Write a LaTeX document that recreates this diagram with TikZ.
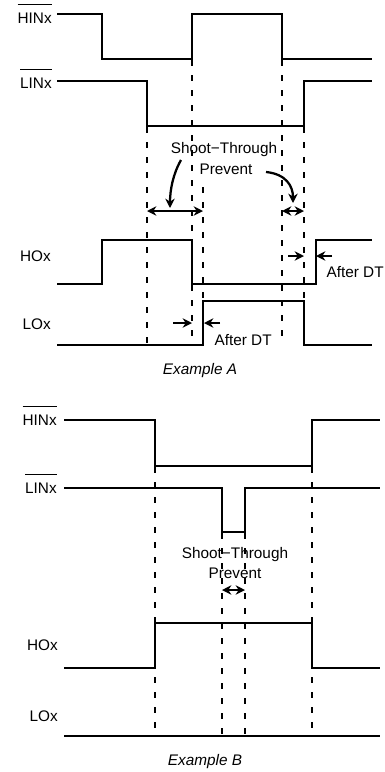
\documentclass[tikz,border=0pt]{standalone}
\usepackage{fontspec}
\setmainfont{Liberation Sans}
\usetikzlibrary{arrows.meta}
\definecolor{traceink}{HTML}{000000}
\newcommand{\barsig}[1]{\vbox{\hrule height 0.75pt \vskip 5.5pt \hbox{#1}}}

\begin{document}
\begin{tikzpicture}[x=0.75pt, y=-0.75pt, >={Stealth[length=7pt, width=7pt]},
                    every node/.style={traceink, font=\fontsize{11.5}{13.5}\selectfont},
                    sig/.style={traceink, line width=2pt},
                    guide/.style={traceink, line width=0.8pt, dash pattern=on 4.5pt off 6.75pt},
                    spanarr/.style={traceink, line width=1.7pt, <->},
                    dtarr/.style={traceink, line width=1.7pt, ->},
                    signame/.style={anchor=base east, inner sep=0pt},
                    textnote/.style={inner sep=1pt}]

  \useasboundingbox (0,0) rectangle (385,772);

  %% 範例 A 的輸入與輸出波形
  \draw[sig] (57,14) -| (102,59) -| (192,14) -| (282,59) -- (372,59);
  \draw[sig] (57,81) -| (147,126) -| (304,81) -- (372,81);
  \draw[sig] (57,284) -| (102,240) -| (192,284) -| (316,240) -- (372,240);
  \draw[sig] (57,345) -| (203,301) -| (304,345) -- (372,345);

  \node[signame] (hinA) at (52,23) {\barsig{HINx}};
  \node[signame] (linA) at (52,88) {\barsig{LINx}};
  \node[signame] (hoA)  at (51,261) {HOx};
  \node[signame] (loA)  at (51,329) {LOx};

  %% 邊緣對齊的虛線
  \draw[guide] (147,127) -- (147,345);
  \draw[guide] (192,60)  -- (192,345);
  \draw[guide] (203,187) -- (203,301);
  \draw[guide] (282,60)  -- (282,345);
  \draw[guide] (304,127) -- (304,345);

  %% 防止直通的區間
  \node[textnote] (stA) at (224,150) {Shoot−Through};
  \node[textnote] (pvA) at (226,169) {Prevent};
  \coordinate (g1l) at (147,211);
  \coordinate (g1r) at (203,211);
  \coordinate (g2l) at (282,211);
  \coordinate (g2r) at (304,211);
  \draw[spanarr] (g1l) -- (g1r);
  \draw[spanarr] (g2l) -- (g2r);
  \draw[dtarr] (181,160) .. controls (173,174) and (170,190) .. (170,208);
  \draw[dtarr] (pvA.east) ++(12,3) .. controls (286,174) and (293,186) .. (293,203);

  %% 死區時間
  \coordinate (d1a) at (288,256);
  \coordinate (d1b) at (304,256);
  \coordinate (d1c) at (332,256);
  \coordinate (d1d) at (316,256);
  \draw[dtarr] (d1a) -- (d1b);
  \draw[dtarr] (d1c) -- (d1d);
  \node[textnote, anchor=west] (dtA1) at (325,272) {After DT};

  \coordinate (d2a) at (173,323);
  \coordinate (d2b) at (192,323);
  \coordinate (d2c) at (220,323);
  \coordinate (d2d) at (204,323);
  \draw[dtarr] (d2a) -- (d2b);
  \draw[dtarr] (d2c) -- (d2d);
  \node[textnote, anchor=west] (dtA2) at (213,340) {After DT};

  \node (capA) at (200,371) {\itshape Example A};

  %% 範例 B 的輸入與輸出波形
  \draw[sig] (64,420) -| (155,466) -| (312,420) -- (380,420);
  \draw[sig] (64,488) -| (222,532) -| (245,488) -- (380,488);
  \draw[sig] (64,668) -| (155,623) -| (312,668) -- (380,668);
  \draw[sig] (64,736) -- (380,736);

  \node[signame] (hinB) at (57,425) {\barsig{HINx}};
  \node[signame] (linB) at (57,493) {\barsig{LINx}};
  \node[signame] (hoB)  at (58,650) {HOx};
  \node[signame] (loB)  at (58,721) {LOx};

  \draw[guide] (155,467) -- (155,736);
  \draw[guide] (222,533) -- (222,736);
  \draw[guide] (245,533) -- (245,736);
  \draw[guide] (312,467) -- (312,736);

  \node[textnote] (stB) at (235,555) {Shoot−Through};
  \node[textnote] (pvB) at (235,573) {Prevent};
  \coordinate (g3l) at (222,590);
  \coordinate (g3r) at (245,590);
  \draw[spanarr] (g3l) -- (g3r);

  \node (capB) at (205,762) {\itshape Example B};

\end{tikzpicture}
\end{document}
